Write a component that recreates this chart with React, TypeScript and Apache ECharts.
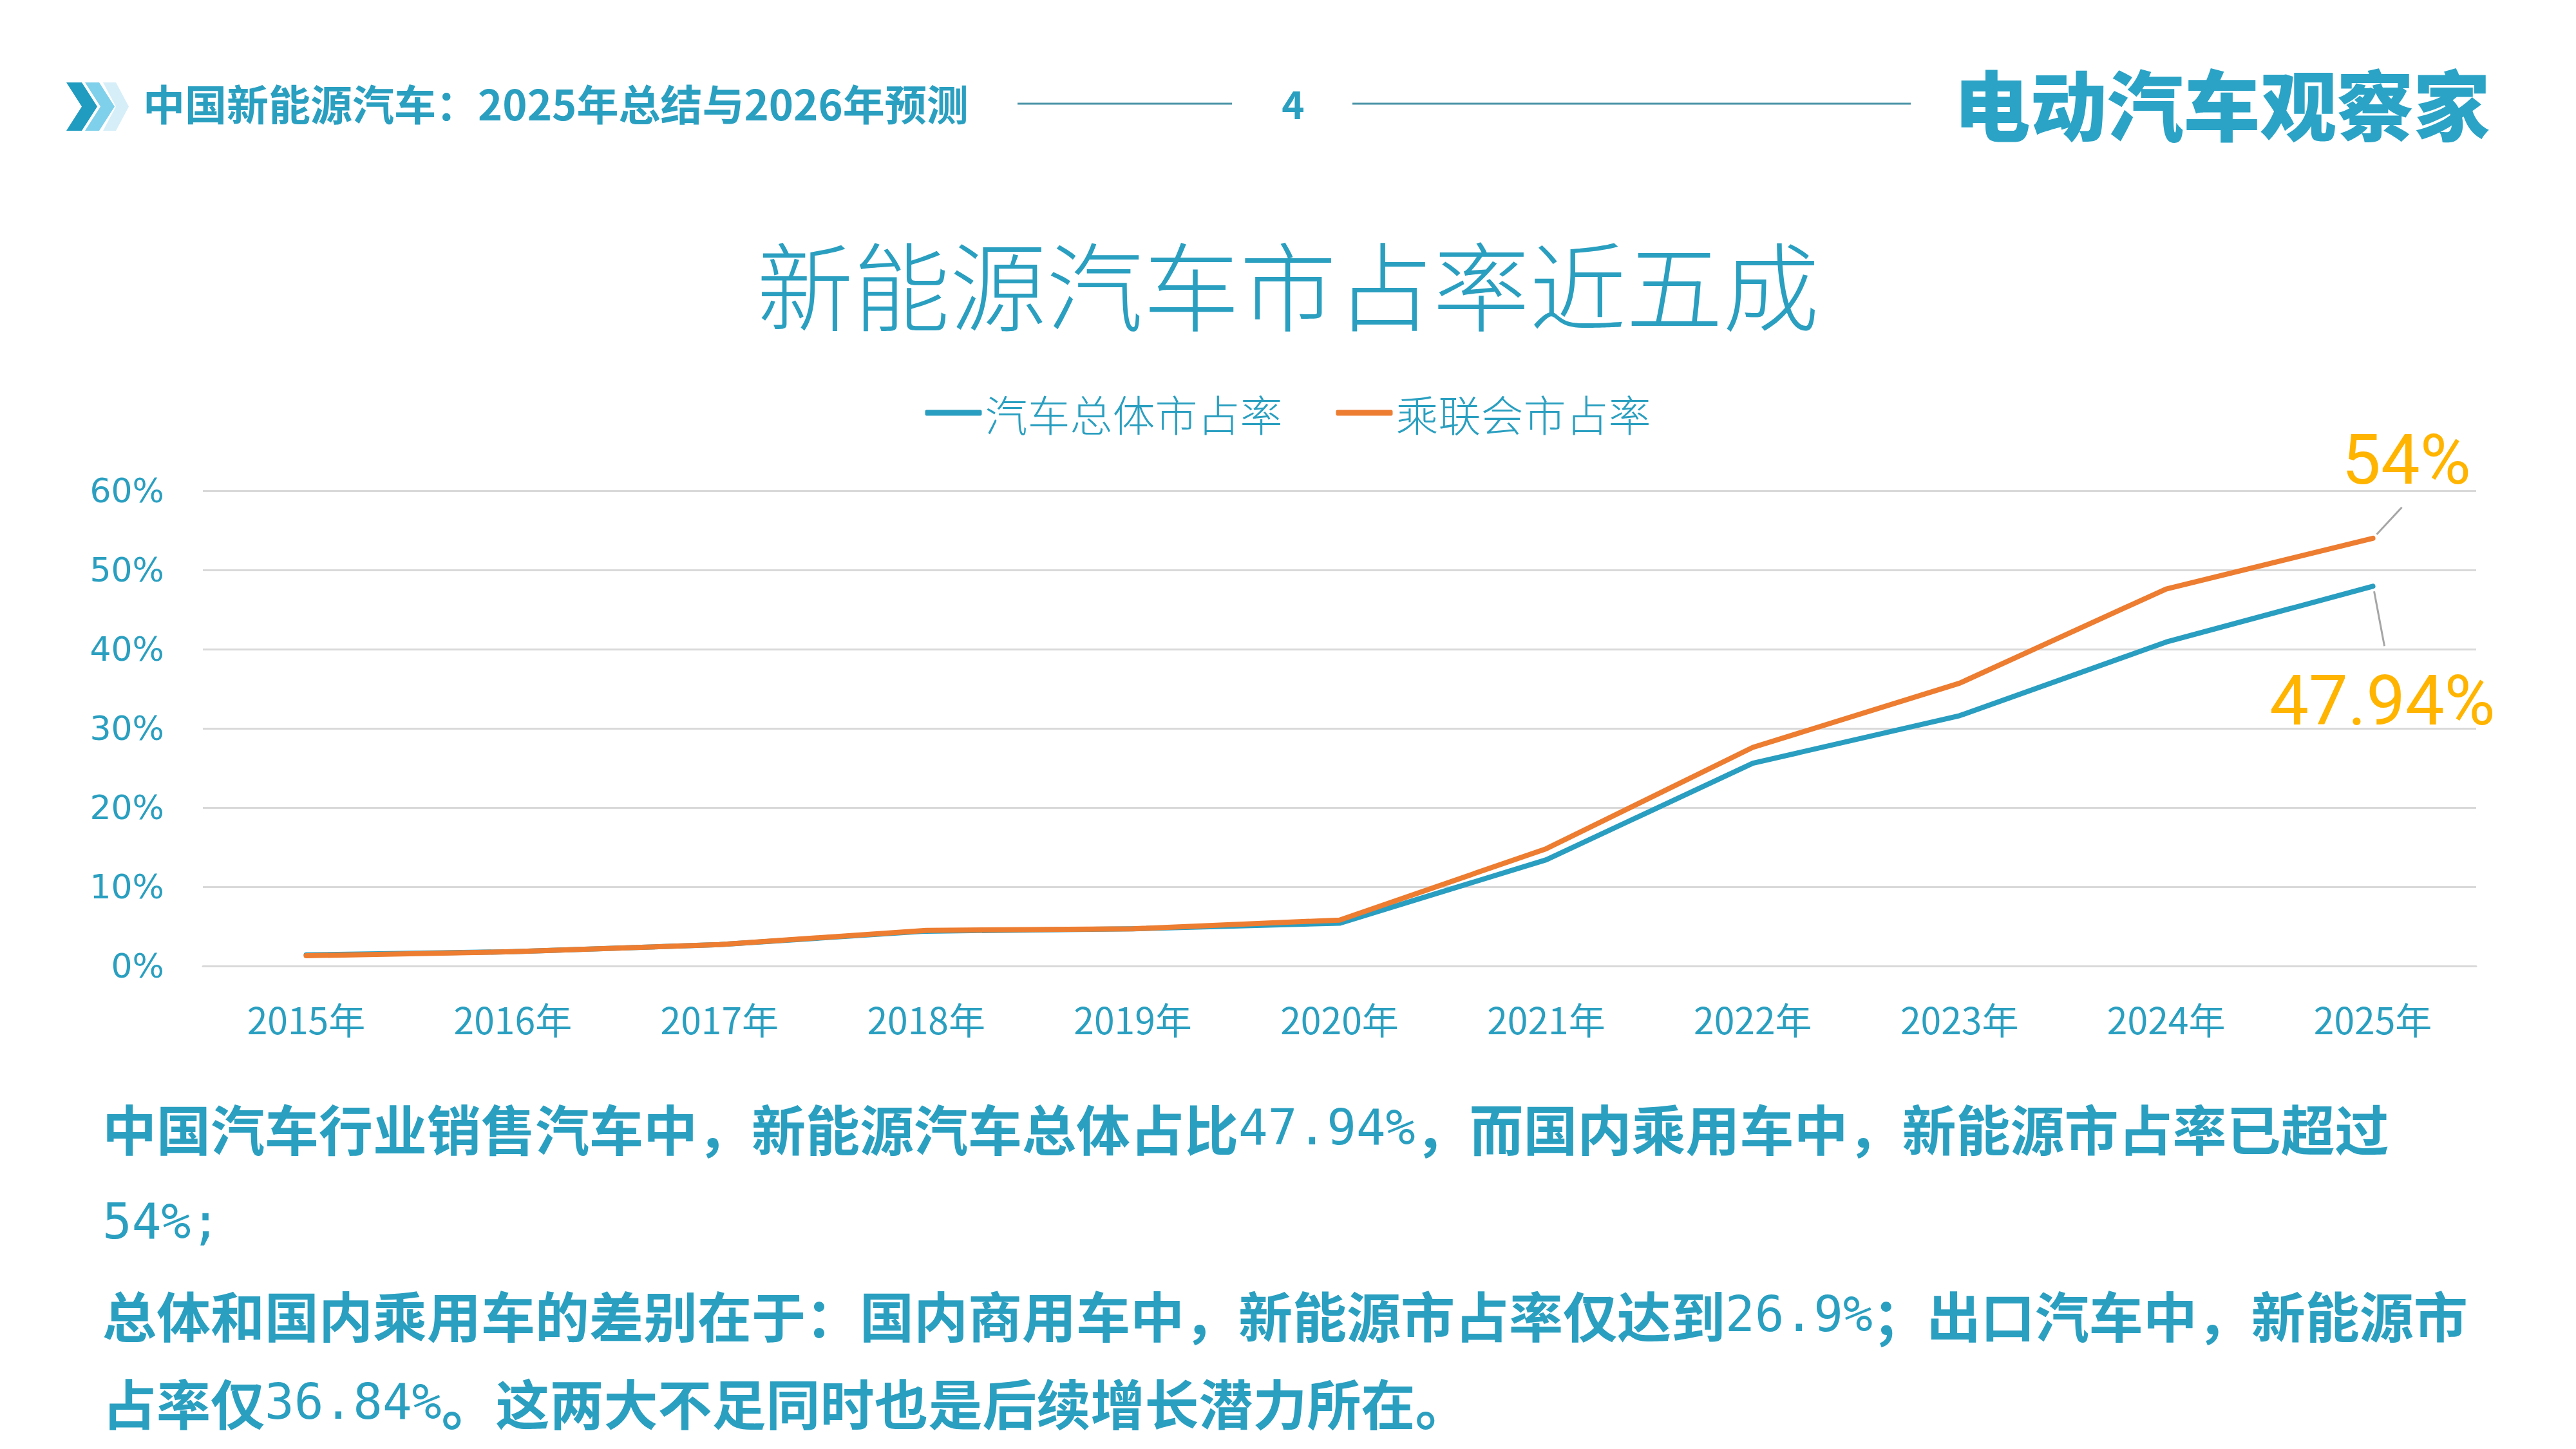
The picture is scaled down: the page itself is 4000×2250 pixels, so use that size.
import React, { useEffect, useRef } from "react";
import * as echarts from "echarts";

const categories = ["2015年", "2016年", "2017年", "2018年", "2019年", "2020年", "2021年", "2022年", "2023年", "2024年", "2025年"];
const totalShare = [1.4, 1.8, 2.7, 4.4, 4.7, 5.4, 13.4, 25.6, 31.6, 40.9, 47.94];
const cpcaShare = [1.3, 1.8, 2.7, 4.5, 4.7, 5.8, 14.8, 27.6, 35.7, 47.6, 54];
const seriesNames = ["汽车总体市占率", "乘联会市占率"];
const yTicks = { min: 0, max: 60, interval: 10 };
const headerTitle = "中国新能源汽车：2025年总结与2026年预测";
const pageNo = "4";
const brand = "电动汽车观察家";
const chartTitle = "新能源汽车市占率近五成";
const endLabels = ["47.94%", "54%"];
const paragraph = [
  ["中国汽车行业销售汽车中，新能源汽车总体占比", "47.94%", "，而国内乘用车中，新能源市占率已超过"],
  ["", "54%", ";"],
  ["总体和国内乘用车的差别在于：国内商用车中，新能源市占率仅达到", "26.9%", "；出口汽车中，新能源市"],
  ["占率仅", "36.84%", "。这两大不足同时也是后续增长潜力所在。"],
];

const TEAL = "#2a9fc0";
const BLUE = "#2a9ec0";
const ORANGE = "#ed7d31";
const GOLD = "#ffb400";
const CJK = '"Noto Sans CJK SC", sans-serif';

function chevron(x0: number, w: number, t: number, top: number, h: number) {
  const mid = top + h / 2;
  return [
    [x0, top],
    [x0 + t, top],
    [x0 + w, mid],
    [x0 + t, top + h],
    [x0, top + h],
    [x0 + w - t, mid],
  ];
}

export default function App() {
  const ref = useRef<HTMLDivElement>(null);
  useEffect(() => {
    document.body.style.margin = "0";
    const chart = echarts.init(ref.current!, undefined, { renderer: "svg" });
    const option: any = {
      animation: false,
      backgroundColor: "#ffffff",
      legend: {
        top: 603,
        left: "center",
        itemWidth: 88,
        itemHeight: 9,
        itemGap: 83,
        icon: "roundRect",
        textStyle: { fontSize: 66, fontFamily: CJK, fontWeight: 300, color: TEAL },
        data: seriesNames,
      },
      grid: { left: 315, right: 155, top: 762, bottom: 750 },
      xAxis: {
        type: "category",
        data: categories,
        boundaryGap: true,
        axisLine: { show: true, lineStyle: { color: "#d9d9d9", width: 3 } },
        axisTick: { show: false },
        axisLabel: { fontSize: 57, fontFamily: CJK, color: TEAL, margin: 52 },
      },
      yAxis: {
        type: "value",
        min: yTicks.min,
        max: yTicks.max,
        interval: yTicks.interval,
        axisLine: { show: false },
        axisTick: { show: false },
        axisLabel: { formatter: "{value}%", fontSize: 52, fontFamily: "DejaVu Sans", color: TEAL, margin: 60 },
        splitLine: { lineStyle: { color: "#d9d9d9", width: 3 } },
      },
      series: [
        {
          name: seriesNames[0],
          type: "line",
          data: totalShare,
          showSymbol: false,
          symbol: "none",
          lineStyle: { color: BLUE, width: 8, cap: "round", join: "round" },
          itemStyle: { color: BLUE },
        },
        {
          name: seriesNames[1],
          type: "line",
          data: cpcaShare,
          showSymbol: false,
          symbol: "none",
          lineStyle: { color: ORANGE, width: 8, cap: "round", join: "round" },
          itemStyle: { color: ORANGE },
        },
      ],
    };
    chart.setOption(option);

    const last = categories.length - 1;
    const pB = chart.convertToPixel({ seriesIndex: 0 }, [last, totalShare[last]]) as number[];
    const pO = chart.convertToPixel({ seriesIndex: 1 }, [last, cpcaShare[last]]) as number[];

    const textStyle = (text: string, font: string, fill: string, align = "left") => ({
      text,
      font,
      fill,
      align,
      textAlign: align,
      verticalAlign: "middle",
      textVerticalAlign: "middle",
    });

    const graphic: any[] = [
      // header chevrons
      { type: "polygon", shape: { points: chevron(160, 40, 20, 128, 75) }, style: { fill: "#d6eef8" } },
      { type: "polygon", shape: { points: chevron(132, 46, 22, 128, 75) }, style: { fill: "#7fd0ea" } },
      { type: "polygon", shape: { points: chevron(103, 48, 24, 128, 75) }, style: { fill: "#1f9cc0" } },
      { type: "text", x: 222, y: 159, style: textStyle(headerTitle, `bold 65px ${CJK}`, TEAL) },
      { type: "line", shape: { x1: 1580, y1: 161, x2: 1913, y2: 161 }, style: { stroke: "#4a93a6", lineWidth: 3 } },
      { type: "text", x: 2008, y: 158, style: textStyle(pageNo, `bold 60px ${CJK}`, TEAL, "center") },
      { type: "line", shape: { x1: 2100, y1: 161, x2: 2967, y2: 161 }, style: { stroke: "#4a93a6", lineWidth: 3 } },
      { type: "text", x: 3450, y: 158, style: textStyle(brand, `900 119px ${CJK}`, "#2aa3c6", "center") },
      // chart title
      { type: "text", x: 2000, y: 437, style: textStyle(chartTitle, `300 150px ${CJK}`, TEAL, "center") },
      // leader lines + end labels
      { type: "line", shape: { x1: pO[0] + 6, y1: pO[1] - 6, x2: pO[0] + 45, y2: pO[1] - 48 }, style: { stroke: "#a6a6a6", lineWidth: 3 } },
      { type: "text", x: pO[0] + 52, y: pO[1] - 122, style: textStyle(endLabels[1], `108px Roboto`, GOLD, "center") },
      { type: "line", shape: { x1: pB[0] + 2, y1: pB[1] + 8, x2: pB[0] + 18, y2: pB[1] + 93 }, style: { stroke: "#a6a6a6", lineWidth: 3 } },
      { type: "text", x: pB[0] + 15, y: pB[1] + 178, style: textStyle(endLabels[0], `108px Roboto`, GOLD, "center") },
    ];

    const lineYs = [1750, 1896, 2040, 2176];
    paragraph.forEach((parts, i) => {
      const rich = {
        a: { fontSize: 84, lineHeight: 88, fontWeight: "bold", fontFamily: CJK, fill: TEAL, color: TEAL },
        n: { fontSize: 76, lineHeight: 88, fontWeight: "normal", fontFamily: '"DejaVu Sans Mono", monospace', fill: TEAL, color: TEAL },
      };
      const segs: string[] = [];
      if (parts[0]) segs.push(`{a|${parts[0]}}`);
      if (parts[1]) segs.push(`{n|${parts[1]}}`);
      if (parts[2]) segs.push(`{${i === 1 ? "n" : "a"}|${parts[2]}}`);
      graphic.push({
        type: "text",
        x: 159,
        y: lineYs[i],
        style: {
          text: segs.join(""),
          rich,
          fill: TEAL,
          lineHeight: 88,
          align: "left",
          textAlign: "left",
          verticalAlign: "middle",
          textVerticalAlign: "middle",
        },
      });
    });

    chart.setOption({ graphic });
    return () => chart.dispose();
  }, []);
  return (
    <div
      ref={ref}
      style={{ position: "absolute", left: 0, top: 0, width: 4000, height: 2250, background: "#fff" }}
    />
  );
}
